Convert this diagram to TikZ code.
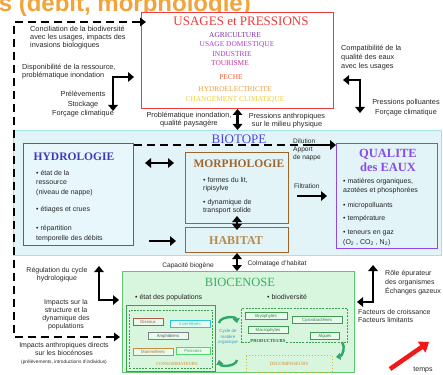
\documentclass[tikz,border=0pt]{standalone}
\usepackage{fontspec}
\setmainfont{Liberation Serif}
\setsansfont{Liberation Sans}
\usetikzlibrary{arrows.meta}

\definecolor{titleorange}{HTML}{F2A33A}
\definecolor{usagesred}{HTML}{EE3B3B}
\definecolor{uAgri}{HTML}{7A2E9E}
\definecolor{uDom}{HTML}{B03CD0}
\definecolor{uInd}{HTML}{A43BC8}
\definecolor{uTour}{HTML}{C8309A}
\definecolor{uPeche}{HTML}{E8603C}
\definecolor{uHydro}{HTML}{E8A040}
\definecolor{uClim}{HTML}{F0CC30}
\definecolor{biotopeblue}{HTML}{4848E8}
\definecolor{biotopefill}{HTML}{E2F4F8}
\definecolor{biotopeline}{HTML}{A6E0EA}
\definecolor{hydroblue}{HTML}{3A3AB8}
\definecolor{hydroline}{HTML}{5058C8}
\definecolor{hydrofill}{HTML}{E8F7FC}
\definecolor{morphobrown}{HTML}{A0642A}
\definecolor{habitattan}{HTML}{B88A48}
\definecolor{qualviolet}{HTML}{8A4AE8}
\definecolor{biogreen}{HTML}{3CAE64}
\definecolor{bioline}{HTML}{5CC872}
\definecolor{biofill}{HTML}{D8F5DE}
\definecolor{consogreen}{HTML}{3E9E50}
\definecolor{cycgreen}{HTML}{2EA868}
\definecolor{decoyellow}{HTML}{D8B830}
\definecolor{decoorange}{HTML}{D88A30}
\definecolor{tagfill}{HTML}{E8FBEE}
\definecolor{tagbrown}{HTML}{B05A48}
\definecolor{tagcyan}{HTML}{30C8D0}
\definecolor{taggray}{HTML}{808080}
\definecolor{tagorange}{HTML}{D08A38}
\definecolor{taggreen}{HTML}{50D868}
\definecolor{cyctext}{HTML}{3C9CC0}
\definecolor{timered}{HTML}{F01818}

\begin{document}
\begin{tikzpicture}[x=1pt,y=-1pt,
  note/.style={font=\sffamily\fontsize{7.3}{8.4}\selectfont, inner sep=0pt, align=left, text=black!85},
  notec/.style={note, align=center},
  panel/.style={draw, anchor=north west, inner sep=0pt},
  fat/.style={line width=2.8pt, -{Triangle[length=6pt,width=9.5pt]}},
  fatboth/.style={line width=2.8pt, {Triangle[length=6pt,width=9.5pt]}-{Triangle[length=6pt,width=9.5pt]}},
  dashline/.style={line width=1.9pt, dash pattern=on 8pt off 5pt},
  tag/.style={draw, line width=0.6pt, fill=tagfill, font=\sffamily\fontsize{4.3}{5}\selectfont, inner sep=0pt, minimum height=7.5pt},
  usageitem/.style={font=\rmfamily\fontsize{7.4}{8}\selectfont, inner sep=0pt, anchor=base},
  cyc/.style={line width=2.4pt, draw=cycgreen, -{Triangle[length=4.5pt,width=7pt]}}
]
\useasboundingbox (0,0) rectangle (443,374);
\clip (0,0) rectangle (443,374);

% heading, cut by the page edge
\node[anchor=base east, inner sep=0pt, text=titleorange,
      font=\sffamily\bfseries\fontsize{24}{24}\selectfont] (heading) at (251,12) {es (débit, morphologie)};

% main panels
\node[panel, draw=biotopeline, fill=biotopefill, line width=1.4pt, minimum width=428pt, minimum height=125pt] (biotope) at (13,130) {};
\node[panel, draw=usagesred, fill=white, line width=1pt, minimum width=192pt, minimum height=96pt] (usages) at (141,12) {};
\node[panel, draw=hydroline, fill=hydrofill, line width=1pt, minimum width=110pt, minimum height=102pt] (hydro) at (23,143) {};
\node[panel, draw=morphobrown, line width=1pt, minimum width=103pt, minimum height=71pt] (morpho) at (185,152) {};
\node[panel, draw=morphobrown, line width=1pt, minimum width=103pt, minimum height=25pt] (habitat) at (185,227) {};
\node[panel, draw=qualviolet, line width=1pt, minimum width=101pt, minimum height=105pt] (qualite) at (336,143) {};
\node[panel, draw=bioline, fill=biofill, line width=1.3pt, minimum width=232pt, minimum height=101pt] (biocenose) at (122,271) {};

% sub-frames of the biocenose
\node[panel, draw=consogreen, line width=0.9pt, minimum width=89pt, minimum height=66pt] (consoframe) at (126,305) {};
\node[panel, draw=consogreen, line width=0.9pt, dash pattern=on 2pt off 1.2pt, minimum width=83pt, minimum height=58pt] (conso) at (129,310) {};
\node[panel, draw=consogreen, line width=1.1pt, dash pattern=on 2pt off 1.2pt, minimum width=106pt, minimum height=34pt] (prod) at (241,308) {};
\node[panel, draw=decoyellow, line width=1pt, dotted, minimum width=86pt, minimum height=17pt] (decomp) at (246,355) {};

% USAGES et PRESSIONS
\node[anchor=base, inner sep=0pt, text=usagesred, font=\rmfamily\fontsize{13}{14}\selectfont] (usagesT) at (241,26) {USAGES et PRESSIONS};
\node[usageitem, text=uAgri] (uA) at (235,38) {AGRICULTURE};
\node[usageitem, text=uDom] (uB) at (237,47) {USAGE DOMESTIQUE};
\node[usageitem, text=uInd] (uC) at (232,57) {INDUSTRIE};
\node[usageitem, text=uTour] (uD) at (230,66) {TOURISME};
\node[usageitem, text=uPeche] (uE) at (231,80) {PECHE};
\node[usageitem, text=uHydro] (uF) at (235,92) {HYDROELECTRICITE};
\node[usageitem, text=uClim] (uG) at (235,102) {CHANGEMENT CLIMATIQUE};

% panel titles
\node[anchor=base, inner sep=0pt, text=biotopeblue, font=\rmfamily\fontsize{13}{14}\selectfont] (biotopeT) at (239,143) {BIOTOPE};
\node[anchor=base, inner sep=0pt, text=hydroblue, font=\rmfamily\bfseries\fontsize{11.5}{12}\selectfont] (hydroT) at (74,160) {HYDROLOGIE};
\node[anchor=base, inner sep=0pt, text=morphobrown, font=\rmfamily\bfseries\fontsize{11.5}{12}\selectfont] (morphoT) at (239,167) {MORPHOLOGIE};
\node[anchor=base, inner sep=0pt, text=habitattan, font=\rmfamily\bfseries\fontsize{12}{12}\selectfont] (habitatT) at (236,244) {HABITAT};
\node[anchor=base, inner sep=0pt, text=qualviolet, align=center, font=\rmfamily\bfseries\fontsize{12.5}{14}\selectfont] (qualiteT) at (388,171) {QUALITE\\des EAUX};
\node[anchor=base, inner sep=0pt, text=biogreen, font=\rmfamily\fontsize{12.5}{13}\selectfont] (biocenoseT) at (240,286) {BIOCENOSE};

% outer dashed frame
\coordinate (fTop) at (14,22);
\coordinate (fBot) at (14,337);
\draw[dashline, {Triangle[length=6pt,width=8.5pt]}-{Triangle[length=6pt,width=8.5pt]}, shorten <=-5pt, shorten >=2pt]
  (usages.west |- fTop) -- (fTop) -- (fBot) -- (biocenose.west |- fBot);

% notes around the usages (anchored on the baseline of their last line)
\node[note, anchor=base west] (concil) at (30,48) {Conciliation de la biodiversité\\avec les usages, impacts des\\invasions biologiques};
\node[note, anchor=base west, font=\sffamily\fontsize{7.3}{8}\selectfont] (dispo) at (22,78) {Disponibilité de la ressource,\\problématique inondation};
\node[notec, anchor=base, font=\sffamily\fontsize{7.3}{9.8}\selectfont] (prel) at (83,116) {Prélèvements\\Stockage\\Forçage climatique};
\node[notec, anchor=base, font=\sffamily\fontsize{7.3}{8}\selectfont] (probl) at (189,125) {Problématique inondation,\\qualité paysagère};
\node[notec, anchor=base, font=\sffamily\fontsize{7.3}{8}\selectfont] (pressA) at (287,126) {Pressions anthropiques\\sur le milieu physique};
\node[note, anchor=base west, font=\sffamily\fontsize{7.3}{9.3}\selectfont] (compat) at (341,69) {Compatibilité de la\\qualité des eaux\\avec les usages};
\node[notec, anchor=base, font=\sffamily\fontsize{7.3}{10}\selectfont] (pressP) at (406,115) {Pressions polluantes\\Forçage climatique};

% left and right bent arrows
\coordinate (la) at (113,111);
\coordinate (lb) at (134,77);
\draw[fatboth] (la) |- (lb);
\coordinate (ra) at (343,80);
\coordinate (rb) at (360,113);
\draw[fatboth] (ra) -| (rb);

% usages <-> biotope
\draw[fatboth] (usages.south) -- (usages.south |- biotope.north);

% biotope internal links
\coordinate (yA) at (0,163);
\coordinate (yB) at (0,241);
\draw[fatboth, shorten <=11pt, shorten >=11pt] (hydro.east |- yA) -- (morpho.west |- yA);
\draw[fat, shorten <=15pt, shorten >=9pt] (hydro.east |- yB) -- (habitat.west |- yB);
\draw[fatboth, shorten <=-8pt, shorten >=-3pt] (morpho.south) -- (habitat.north);
\draw[fatboth] (habitat.south) -- (habitat.south |- biocenose.north);

\coordinate (dEnd) at (303,145);
\draw[dashline] (hydro.east |- dEnd) -- (dEnd);
\draw[fat] (dEnd) -- (qualite.west |- dEnd);
\coordinate (fS) at (297,196);
\draw[fat, shorten >=9pt] (fS) -- (qualite.west |- fS);

\node[note, anchor=base west, font=\sffamily\fontsize{6.6}{8}\selectfont] (dilution) at (293,159) {Dilution\\Apport\\de nappe};
\node[note, anchor=base west, font=\sffamily\fontsize{6.6}{8}\selectfont] (filtr) at (294,188) {Filtration};

% hydrologie items
\node[note, anchor=base west, font=\sffamily\fontsize{7}{9.5}\selectfont] (h1) at (36,194) {• état de la\\ressource\\(niveau de nappe)};
\node[note, anchor=base west, font=\sffamily\fontsize{7}{9.5}\selectfont] (h2) at (36,211) {• étiages et crues};
\node[note, anchor=base west, font=\sffamily\fontsize{7}{10}\selectfont] (h3) at (36,240) {• répartition\\temporelle des débits};

% morphologie items
\node[note, anchor=base west, font=\sffamily\fontsize{7}{8.5}\selectfont] (m1) at (203,190.5) {• formes du lit,\\ripisylve};
\node[note, anchor=base west, font=\sffamily\fontsize{7}{8.5}\selectfont] (m2) at (203,212.5) {• dynamique de\\transport solide};

% qualite items
\node[note, anchor=base west, font=\sffamily\fontsize{7}{9}\selectfont] (q1) at (343,192) {• matières organiques,\\azotées et phosphorées};
\node[note, anchor=base west, font=\sffamily\fontsize{7}{9}\selectfont] (q2) at (343,207) {• micropolluants};
\node[note, anchor=base west, font=\sffamily\fontsize{7}{9}\selectfont] (q3) at (343,220) {• température};
\node[note, anchor=base west, font=\sffamily\fontsize{7}{10}\selectfont] (q4) at (343,244) {• teneurs en gaz\\(O\textsubscript{2} , CO\textsubscript{2} , N\textsubscript{2})};

% links between habitat and biocenose
\node[notec, anchor=base, font=\sffamily\fontsize{6.6}{8}\selectfont] (capa) at (188,267) {Capacité biogène};
\node[notec, anchor=base, font=\sffamily\fontsize{6.6}{8}\selectfont] (colma) at (277,265) {Colmatage d'habitat};

% lower left notes and arrow
\node[notec, anchor=base, font=\sffamily\fontsize{7}{8}\selectfont] (regul) at (57,280) {Régulation du cycle\\hydrologique};
\node[notec, anchor=base, font=\sffamily\fontsize{7}{8}\selectfont] (struct) at (66,328) {Impacts sur la\\structure et la\\dynamique des\\populations};
\node[notec, anchor=base, font=\sffamily\fontsize{7}{8}\selectfont] (anthro) at (64,355) {Impacts anthropiques directs\\sur les biocénoses};
\node[notec, anchor=base, font=\sffamily\fontsize{4.8}{5}\selectfont] (prelev) at (64,363) {(prélèvements, introductions d'individus)};
\coordinate (ba) at (99,266);
\coordinate (bb) at (119,300);
\draw[fatboth] (ba) |- (bb);

% lower right notes and arrow
\node[note, anchor=base west, font=\sffamily\fontsize{7}{9.3}\selectfont] (role) at (385,293.6) {Rôle épurateur\\des organismes\\Échanges gazeux};
\node[note, anchor=base west, font=\sffamily\fontsize{7}{8.5}\selectfont] (facteurs) at (358,322.5) {Facteurs de croissance\\Facteurs limitants};
\coordinate (ca) at (373,265);
\coordinate (cb) at (357,302);
\draw[fatboth] (ca) |- (cb);

% biocenose contents
\node[note, anchor=base west, font=\sffamily\fontsize{7}{8}\selectfont] (etat) at (135,299) {• état des populations};
\node[note, anchor=base west, font=\sffamily\fontsize{7}{8}\selectfont] (biodiv) at (267,299) {• biodiversité};

\node[tag, draw=tagbrown, text=tagbrown, minimum width=30pt] (oiseaux) at (148,322) {Oiseaux};
\node[tag, draw=tagcyan, text=tagcyan, minimum width=40pt] (invert) at (190,324) {Invertébrés};
\node[tag, draw=taggray, text=taggray!70!black, minimum width=40pt] (amphi) at (168,336) {Amphibiens};
\node[tag, draw=tagorange, text=tagorange!80!black, minimum width=40pt] (mammi) at (153,352) {Mammifères};
\node[tag, draw=taggreen, text=taggreen!80!black, minimum width=34pt] (poiss) at (193,351) {Poissons};
\node[inner sep=0pt, text=decoorange, font=\rmfamily\fontsize{4.6}{5}\selectfont] (consoT) at (177,364) {CONSOMMATEURS};

\node[tag, draw=consogreen, text=consogreen!80!black, minimum width=42pt] (bryo) at (266,316) {Bryophytes};
\node[tag, draw=consogreen, text=consogreen!80!black, minimum width=50pt] (cyano) at (317,320) {Cyanobactéries};
\node[tag, draw=consogreen, text=consogreen!80!black, minimum width=40pt] (macro) at (268,330) {Macrophytes};
\node[tag, draw=consogreen, text=consogreen!80!black, minimum width=29pt] (algues) at (325,336) {Algues};
\node[inner sep=0.5pt, fill=biofill, text=consogreen!70!black, font=\rmfamily\bfseries\fontsize{4.6}{5}\selectfont] (prodT) at (268,341) {PRODUCTEURS};
\node[inner sep=0pt, text=decoorange, font=\rmfamily\fontsize{4.8}{5}\selectfont] (decompT) at (289,364) {DECOMPOSEURS};

\node[inner sep=0pt, align=center, text=cyctext, font=\sffamily\fontsize{4.4}{5.2}\selectfont] (cycle) at (228,337) {Cycle de\\matière\\organique};
\coordinate (c1) at (219,323);
\coordinate (c2) at (237,323);
\coordinate (c3) at (237,360);
\coordinate (c4) at (219,360);
\draw[cyc] (c1) to[bend left=80] (c2);
\draw[cyc] (c3) to[bend left=80] (c4);
\coordinate (c5) at (342,342);
\coordinate (c6) at (336,357);
\draw[cyc] (c5) to[bend left=60] (c6);

% time arrow
\coordinate (t0) at (390,369);
\coordinate (t1) at (429,342);
\draw[line width=4.5pt, draw=timered, -{Triangle[length=9pt,width=13pt]}, color=timered] (t0) -- (t1);
\node[note, anchor=base, font=\sffamily\fontsize{7}{8}\selectfont] (temps) at (423,371) {temps};

\end{tikzpicture}
\end{document}
